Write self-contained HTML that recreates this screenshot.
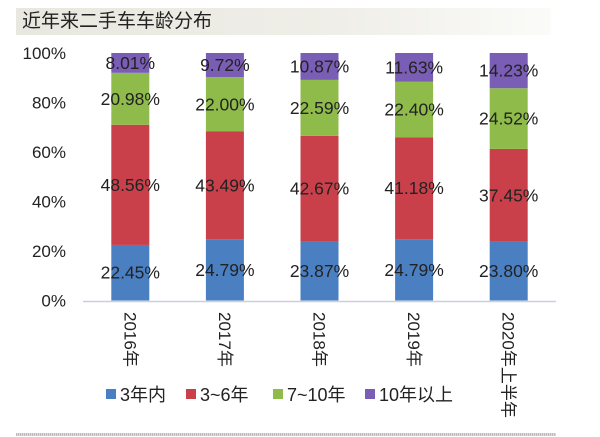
<!DOCTYPE html>
<html><head><meta charset="utf-8"><style>
body{margin:0;background:#fff;width:600px;height:437px;overflow:hidden;font-family:"Liberation Sans","Noto Sans CJK SC",sans-serif}
#title{position:absolute;left:16px;top:8px;width:535px;height:27px;background:linear-gradient(90deg,#e8e8e0 0%,#efeee8 60%,#fbfbf9 100%);font-size:19px;line-height:27px;color:#222;padding-left:6px;box-sizing:border-box}
#foot{position:absolute;left:16px;top:433px;width:540px;height:3px;background:repeating-linear-gradient(90deg,#bbb 0 1px,#ddd 1px 2px)}
</style></head><body>
<div id="title">近年来二手车车龄分布</div>
<svg id="chart" width="600" height="437" style="position:absolute;left:0;top:0"></svg>
<div id="foot"></div>
<script>
const categories=["2016年","2017年","2018年","2019年","2020年上半年"];
const seriesNames=["3年内","3~6年","7~10年","10年以上"];
const s1=[22.45,24.79,23.87,24.79,23.80];
const s2=[48.56,43.49,42.67,41.18,37.45];
const s3=[20.98,22.00,22.59,22.40,24.52];
const s4=[8.01,9.72,10.87,11.63,14.23];
const yTicks=[0,20,40,60,80,100];
const colors=["#4a7fc2","#c9404b","#8fbb4b","#7a5db4"];
const series=[s1,s2,s3,s4];
const svg=document.getElementById('chart');
const NS="http://www.w3.org/2000/svg";
const x0=83,x1=556,y0=300.5,y1=53;
const band=(x1-x0)/categories.length,bw=38;
function yS(v){return y0-(v/100)*(y0-y1);}
function xC(i){return x0+band*(i+0.5);}
function mk(t,a,txt){const e=document.createElementNS(NS,t);for(const k in a)e.setAttribute(k,a[k]);if(txt!==undefined)e.textContent=txt;svg.appendChild(e);return e;}
yTicks.forEach(t=>{
 const e=mk('text',{x:66,y:yS(t)+6,'text-anchor':'end','font-size':17,fill:'#222'},t+'%');
 
 
});
categories.forEach((c,i)=>{
 let base=0;
 const tot=series.reduce((a,s)=>a+s[i],0);
 series.forEach((s,k)=>{
  const v=s[i]/tot*100;
  const r=mk('rect',{x:xC(i)-bw/2,y:yS(base+v),width:bw,height:yS(base)-yS(base+v),fill:colors[k]});
  
  
  const t=mk('text',{x:xC(i),y:(yS(base)+yS(base+v))/2+6,'text-anchor':'middle','font-size':17.5,fill:'#222'},s[i].toFixed(2)+'%');
  
  
  base+=v;
 });
 const lbl=mk('text',{x:0,y:0,'font-size':17,fill:'#222',transform:`translate(${xC(i)-6},312) rotate(90)`},c);
 
 
});
const ax=mk('line',{x1:x0,x2:x1,y1:y0+1,y2:y0+1,stroke:'#c8d0dc','stroke-width':1.5});


const lx=[106,186,273,365];
seriesNames.forEach((n,k)=>{
 const r=mk('rect',{x:lx[k],y:389,width:10,height:10,fill:colors[k]});
 
 
 const t=mk('text',{x:lx[k]+14,y:401,'font-size':18,fill:'#222'},n);
 
 
});
</script>
</body></html>
